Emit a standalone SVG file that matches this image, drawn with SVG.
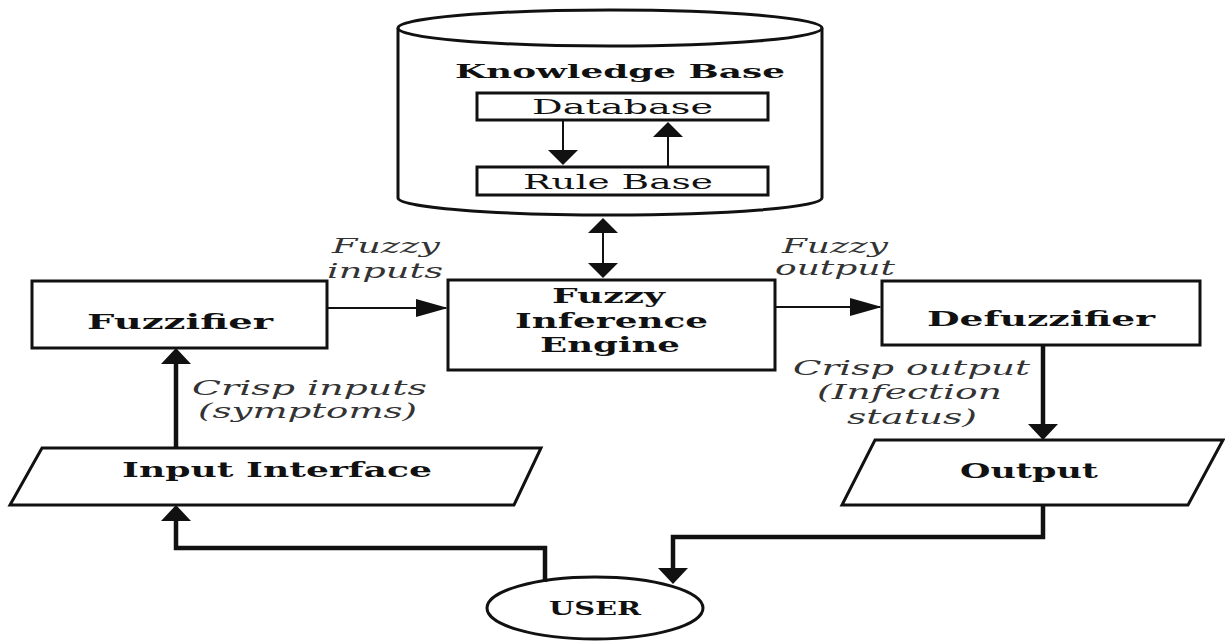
<svg xmlns="http://www.w3.org/2000/svg" width="1225" height="642" viewBox="0 0 1225 642">
<style>
.box{fill:#fff;stroke:#111;stroke-width:3}
.thin{fill:none;stroke:#111;stroke-width:2}
.thick{fill:none;stroke:#111;stroke-width:4.5}
.b{font-family:"DejaVu Serif",serif;font-weight:bold;font-size:20px;fill:#111}
.r{font-family:"DejaVu Serif",serif;font-size:21px;fill:#111}
.i{font-family:"DejaVu Serif",serif;font-style:italic;font-size:20px;fill:#333}
</style>
<defs>
<marker id="ah" markerUnits="userSpaceOnUse" viewBox="0 0 32 18" markerWidth="32" markerHeight="18" refX="30" refY="9" orient="auto"><path d="M0,0 L32,9 L0,18 z" fill="#111"/></marker>
<marker id="av" markerUnits="userSpaceOnUse" viewBox="0 0 16 32" markerWidth="16" markerHeight="32" refX="13" refY="16" orient="auto"><path d="M0,1 L16,16 L0,31 z" fill="#111"/></marker>
<marker id="avs" markerUnits="userSpaceOnUse" viewBox="0 0 15 30" markerWidth="15" markerHeight="30" refX="14" refY="15" orient="auto-start-reverse"><path d="M0,0 L15,15 L0,30 z" fill="#111"/></marker>
</defs>
<rect width="1225" height="642" fill="#fff"/>

<g id="knowledge-base">
<path class="box" d="M398,28 V198 A212,17 0 0 0 822,198 V28"/>
<ellipse class="box" cx="610" cy="28" rx="212" ry="18"/>
<text class="b" style="font-size:18px" x="455" y="78" textLength="330" lengthAdjust="spacingAndGlyphs">Knowledge Base</text>
</g>
<g id="database">
<rect class="box" x="477" y="93" width="291" height="27"/>
<text class="r" x="532" y="114" textLength="181" lengthAdjust="spacingAndGlyphs">Database</text>
</g>
<g id="rule-base">
<rect class="box" x="477" y="167" width="291" height="28"/>
<text class="r" x="523" y="189" textLength="190" lengthAdjust="spacingAndGlyphs">Rule Base</text>
</g>
<g id="fuzzifier">
<rect class="box" x="32" y="281" width="295" height="67"/>
<text class="b" x="87" y="329" textLength="186" lengthAdjust="spacingAndGlyphs">Fuzzifier</text>
</g>
<g id="inference-engine">
<rect class="box" x="448" y="280" width="327" height="90"/>
<text class="b" x="552" y="303" textLength="113" lengthAdjust="spacingAndGlyphs">Fuzzy</text>
<text class="b" x="515" y="328" textLength="193" lengthAdjust="spacingAndGlyphs">Inference</text>
<text class="b" x="540" y="352" textLength="140" lengthAdjust="spacingAndGlyphs">Engine</text>
</g>
<g id="defuzzifier">
<rect class="box" x="882" y="281" width="318" height="64"/>
<text class="b" x="927" y="326" textLength="228" lengthAdjust="spacingAndGlyphs">Defuzzifier</text>
</g>
<g id="input-interface">
<polygon class="box" points="42,448 541,448 514,505 10,505"/>
<text class="b" x="122" y="477" textLength="310" lengthAdjust="spacingAndGlyphs">Input Interface</text>
</g>
<g id="output">
<polygon class="box" points="875,440 1223,440 1188,505 842,505"/>
<text class="b" x="960" y="478" textLength="138" lengthAdjust="spacingAndGlyphs">Output</text>
</g>
<g id="user">
<ellipse class="box" cx="595" cy="608" rx="108" ry="31"/>
<text class="b" style="font-size:19px" x="549" y="615" textLength="92" lengthAdjust="spacingAndGlyphs">USER</text>
</g>

<g id="connectors">
<path class="thin" d="M563,120 V164" marker-end="url(#avs)"/>
<path class="thin" d="M668,167 V123" marker-end="url(#avs)"/>
<path class="thin" d="M603,219 V277" marker-start="url(#avs)" marker-end="url(#avs)"/>
<path class="thin" d="M327,308 H446" marker-end="url(#ah)"/>
<path class="thin" d="M775,307 H880" marker-end="url(#ah)"/>
<path class="thick" d="M176,448 V351" marker-end="url(#av)"/>
<path class="thick" d="M1043,345 V437" marker-end="url(#av)"/>
<path class="thick" d="M545,582 V548 H176 V508" marker-end="url(#av)"/>
<path class="thick" d="M1043,505 V537 H673 V581" marker-end="url(#av)"/>
</g>

<g id="labels">
<text class="i" x="332" y="253" textLength="108" lengthAdjust="spacingAndGlyphs">Fuzzy</text>
<text class="i" x="327" y="278" textLength="116" lengthAdjust="spacingAndGlyphs">inputs</text>
<text class="i" x="782" y="253" textLength="106" lengthAdjust="spacingAndGlyphs">Fuzzy</text>
<text class="i" x="775" y="275" textLength="120" lengthAdjust="spacingAndGlyphs">output</text>
<text class="i" x="192" y="395" textLength="235" lengthAdjust="spacingAndGlyphs">Crisp inputs</text>
<text class="i" x="198" y="418" textLength="219" lengthAdjust="spacingAndGlyphs">(symptoms)</text>
<text class="i" x="793" y="375" textLength="237" lengthAdjust="spacingAndGlyphs">Crisp output</text>
<text class="i" x="817" y="399" textLength="185" lengthAdjust="spacingAndGlyphs">(Infection</text>
<text class="i" x="847" y="424" textLength="130" lengthAdjust="spacingAndGlyphs">status)</text>
</g>
</svg>
